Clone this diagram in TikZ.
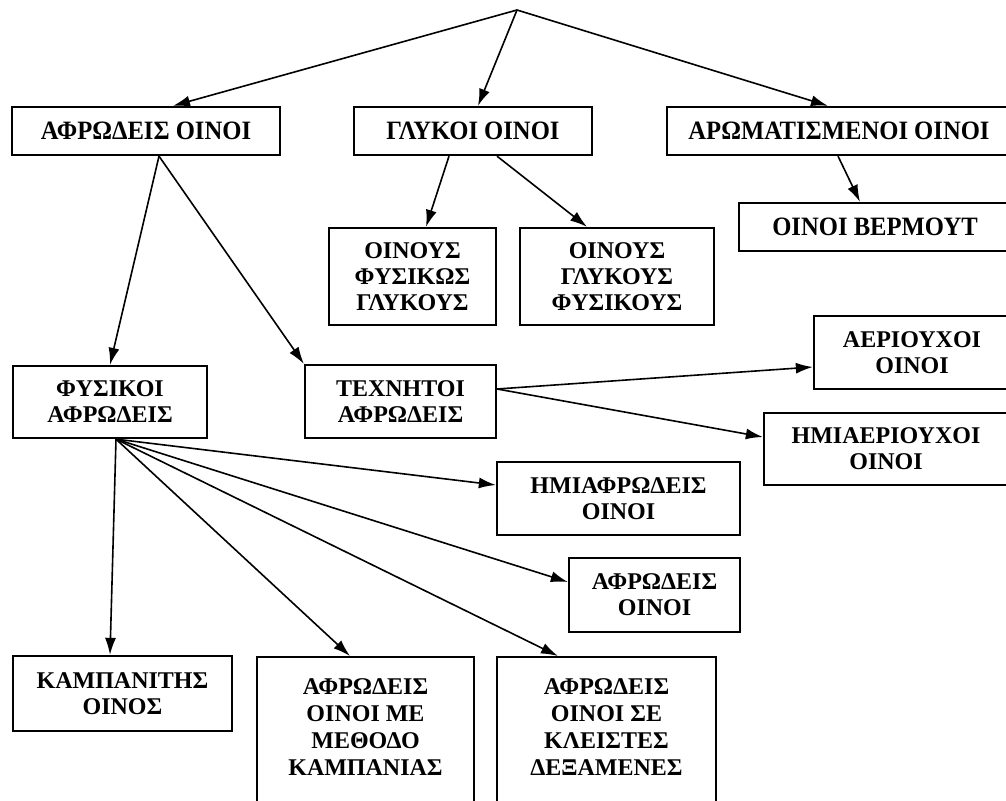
\documentclass[tikz,border=0pt]{standalone}
\usepackage{fontspec}
\setmainfont{Liberation Serif}
\newfontfamily\narrowserif[FakeStretch=0.93]{Liberation Serif}
\usepackage{tikz}
\usetikzlibrary{arrows.meta}

\begin{document}
\begin{tikzpicture}[x=1pt,y=-1pt,->,>={Latex[length=17pt,width=11pt]},line width=1.6pt,
  main node/.style={rectangle,draw,line width=2.3pt,align=center,inner sep=0pt,
    font=\fontsize{24}{26}\selectfont\bfseries},
  wide node/.style={main node,minimum height=48pt,
    font=\narrowserif\fontsize{26.5}{28}\selectfont\bfseries},
  tall node/.style={main node,anchor=north,inner ysep=21pt,
    font=\fontsize{24}{27}\selectfont\bfseries}]
  \clip (0,0) rectangle (1006,800);

  \coordinate (0) at (517,10);
  \node[wide node,minimum width=268pt] (1) at (146,131) {ΑΦΡΩΔΕΙΣ ΟΙΝΟΙ};
  \node[wide node,minimum width=238pt] (2) at (473,131) {ΓΛΥΚΟΙ ΟΙΝΟΙ};
  \node[wide node,minimum width=344pt] (3) at (839,131) {ΑΡΩΜΑΤΙΣΜΕΝΟΙ ΟΙΝΟΙ};
  \node[wide node,minimum width=272pt] (4) at (875,227) {ΟΙΝΟΙ ΒΕΡΜΟΥΤ};
  \node[main node,minimum width=167pt,minimum height=97pt] (5) at (412.5,276.5) {ΟΙΝΟΥΣ\\ ΦΥΣΙΚΩΣ\\ ΓΛΥΚΟΥΣ};
  \node[main node,minimum width=194pt,minimum height=97pt] (6) at (617,276.5) {ΟΙΝΟΥΣ\\ ΓΛΥΚΟΥΣ\\ ΦΥΣΙΚΟΥΣ};
  \node[main node,minimum width=194pt,minimum height=72pt] (7) at (110,402) {ΦΥΣΙΚΟΙ\\ ΑΦΡΩΔΕΙΣ};
  \node[main node,minimum width=191pt,minimum height=73pt] (8) at (400.5,401.5) {ΤΕΧΝΗΤΟΙ\\ ΑΦΡΩΔΕΙΣ};
  \node[main node,minimum width=196pt,minimum height=73pt] (9) at (912,352.5) {ΑΕΡΙΟΥΧΟΙ\\ ΟΙΝΟΙ};
  \node[main node,minimum width=244pt,minimum height=72pt] (10) at (886,449) {ΗΜΙΑΕΡΙΟΥΧΟΙ\\ ΟΙΝΟΙ};
  \node[main node,minimum width=243pt,minimum height=73pt] (11) at (618.5,498.5) {ΗΜΙΑΦΡΩΔΕΙΣ\\ ΟΙΝΟΙ};
  \node[main node,minimum width=171pt,minimum height=74pt] (12) at (654.5,595) {ΑΦΡΩΔΕΙΣ\\ ΟΙΝΟΙ};
  \node[main node,minimum width=219pt,minimum height=75pt] (13) at (122.5,693.5) {ΚΑΜΠΑΝΙΤΗΣ\\ ΟΙΝΟΣ};
  \node[tall node] (14) at (365.5,656)
    {\parbox[c][150pt][t]{217pt}{\centering ΑΦΡΩΔΕΙΣ\\ ΟΙΝΟΙ ΜΕ\\ ΜΕΘΟΔΟ\\ ΚΑΜΠΑΝΙΑΣ}};
  \node[tall node] (15) at (606.5,656)
    {\parbox[c][150pt][t]{219pt}{\centering ΑΦΡΩΔΕΙΣ\\ ΟΙΝΟΙ ΣΕ\\ ΚΛΕΙΣΤΕΣ\\ ΔΕΞΑΜΕΝΕΣ}};

  \path
    (0) edge ([xshift=27pt]1.north)
    (0) edge ([xshift=5pt]2.north)
    (0) edge ([xshift=-11pt]3.north)
    ([xshift=-1pt]3.south) edge ([xshift=-15pt]4.north)
    ([xshift=-24pt]2.south) edge ([xshift=13.5pt]5.north)
    ([xshift=24pt]2.south) edge ([xshift=-30pt]6.north)
    ([xshift=13pt]1.south) edge (7.north)
    ([xshift=13pt]1.south) edge (8.north west)
    ([yshift=12.5pt]8.east) edge ([yshift=-14.5pt]9.west)
    ([yshift=12.5pt]8.east) edge ([yshift=12pt]10.west)
    ([xshift=6pt]7.south) edge ([yshift=13.5pt]11.west)
    ([xshift=6pt]7.south) edge ([yshift=13pt]12.west)
    ([xshift=6pt]7.south) edge ([xshift=-12.5pt]13.north)
    ([xshift=6pt]7.south) edge ([xshift=-15.5pt]14.north)
    ([xshift=6pt]7.south) edge ([xshift=-48.5pt]15.north);
\end{tikzpicture}
\end{document}
